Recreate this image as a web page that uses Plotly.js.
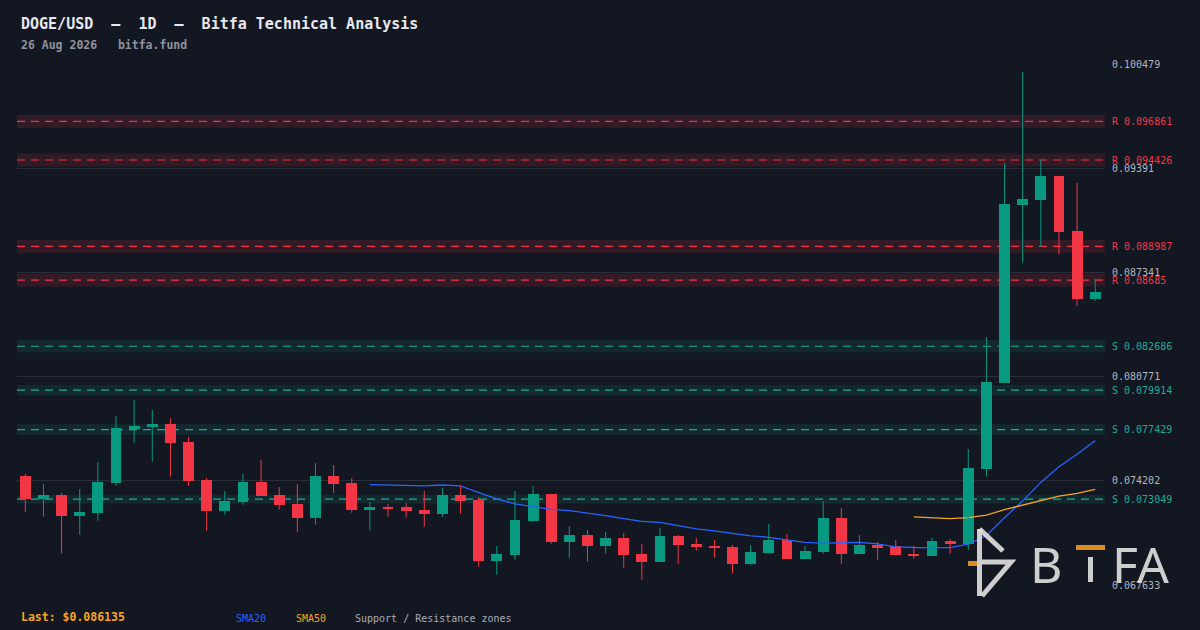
<!DOCTYPE html>
<html><head><meta charset="utf-8">
<script src="https://cdn.plot.ly/plotly-3.0.1.min.js"></script>
<style>html,body{margin:0;padding:0;background:#131722;}#chart{width:1200px;height:630px;}</style>
</head><body><div id="chart"></div>
<script>
// ---- data ----
const opens = [0.074505,0.073074,0.073307,0.072002,0.072191,0.074082,0.077468,0.077613,0.077783,0.076648,
0.074253,0.072317,0.072885,0.074127,0.073307,0.07274,0.071876,0.074505,0.074063,0.07238,
0.07255,0.07255,0.072361,0.072128,0.073307,0.072992,0.069165,0.069543,0.071668,0.07337,
0.070363,0.070785,0.070111,0.070596,0.069587,0.069102,0.070722,0.070218,0.070111,0.070029,
0.068976,0.069669,0.07047,0.069291,0.069732,0.071857,0.069606,0.070155,0.070092,0.069587,
0.06948,0.070407,0.070237,0.074965,0.080387,0.09159,0.091905,0.093418,0.089951,0.085664];
const highs = [0.074631,0.074000,0.073433,0.073685,0.075387,0.078287,0.079296,0.078666,0.078161,0.076963,
0.074379,0.073559,0.074631,0.075513,0.073811,0.074000,0.075324,0.075198,0.074379,0.072866,
0.07274,0.072803,0.073559,0.073748,0.073874,0.073181,0.070092,0.073559,0.073874,0.07337,
0.071353,0.0711,0.070974,0.070911,0.070218,0.071227,0.070785,0.070596,0.07047,0.070155,
0.070155,0.071479,0.070848,0.070092,0.072929,0.072487,0.070785,0.070344,0.07047,0.070092,
0.070596,0.070533,0.076207,0.083268,0.094238,0.099975,0.094427,0.093418,0.092977,0.086924];
const lows = [0.072254,0.071939,0.069606,0.070804,0.071687,0.073893,0.076604,0.075406,0.074461,0.073893,
0.071056,0.072065,0.072695,0.073244,0.07238,0.070993,0.071435,0.073452,0.072191,0.071056,
0.071939,0.071876,0.071308,0.071939,0.072128,0.068787,0.068282,0.069228,0.071605,0.070237,
0.069354,0.069102,0.069606,0.068724,0.067967,0.069102,0.068976,0.069795,0.069354,0.068345,
0.068913,0.069606,0.069291,0.069228,0.069606,0.068976,0.069606,0.069228,0.069543,0.069291,
0.06948,0.069606,0.069858,0.074461,0.080387,0.087952,0.088961,0.088456,0.085223,0.085537];
const closes = [0.073074,0.073307,0.072002,0.072235,0.074127,0.077531,0.077657,0.077783,0.076604,0.074208,
0.072317,0.072929,0.074127,0.073263,0.072695,0.071876,0.074505,0.074019,0.07238,0.07255,
0.072443,0.072317,0.072128,0.073307,0.072929,0.069165,0.069587,0.071731,0.07337,0.070363,
0.070785,0.070111,0.070596,0.069543,0.069102,0.070722,0.070174,0.070048,0.069985,0.068976,
0.069713,0.07047,0.069291,0.069776,0.071857,0.069606,0.070155,0.069985,0.069543,0.06948,
0.070407,0.070237,0.075009,0.080431,0.091653,0.091968,0.093418,0.089888,0.085664,0.086135];
const yTicks = [0.067633, 0.074202, 0.080771, 0.087341, 0.09391, 0.100479];
const yTickLabels = ['0.067633','0.074202','0.080771','0.087341','0.09391','0.100479'];
const resistanceLevels = [0.096861, 0.094426, 0.088987, 0.08685];
const resistanceHalfWidth = [0.0004, 0.0004, 0.0004, 0.0004];
const supportLevels = [0.082686, 0.079914, 0.077429, 0.073049];
const supportHalfWidth = [0.0004, 0.000337, 0.000337, 0.000274];
const lastPrice = 0.086135;
const titleText = 'DOGE/USD  –  1D  –  Bitfa Technical Analysis';
const subtitleText = '26 Aug 2026   bitfa.fund';

// ---- styles ----
const BG = '#131722', UP = '#089981', DOWN = '#f23645';
const RES = '#f23645', SUP = '#22ab94';
const BLUE = '#2962ff', ORANGE = '#f5a524';
const MONO = 'DejaVu Sans Mono, monospace';
const ML = 17, MR = 95, MT = 64, MB = 45, W = 1200, H = 630;
const PW = W - ML - MR, PH = H - MT - MB;
const px = v => (v - ML) / PW;
const py = v => (H - MB - v) / PH;
const nb = s => s.replace(/ /g, '\u00a0');

function sma(arr, n) {
  return arr.map((_, i) => {
    if (i < n - 1) return null;
    let s = 0; for (let k = i - n + 1; k <= i; k++) s += arr[k];
    return s / n;
  });
}
const idx = closes.map((_, i) => i);
const sma20 = sma(closes, 20);
const sma50 = sma(closes, 50);

// wicks
const wick = {up: {x: [], y: []}, down: {x: [], y: []}};
idx.forEach(i => {
  const w = closes[i] >= opens[i] ? wick.up : wick.down;
  w.x.push(i, i, null); w.y.push(lows[i], highs[i], null);
});

const traces = [
  {type: 'scatter', mode: 'lines', x: idx, y: sma20, line: {color: BLUE, width: 1.3}, hoverinfo: 'skip'},
  {type: 'scatter', mode: 'lines', x: idx, y: sma50, line: {color: ORANGE, width: 1.3}, hoverinfo: 'skip'},
  {type: 'scatter', mode: 'lines', x: wick.up.x, y: wick.up.y, line: {color: UP, width: 1}, hoverinfo: 'skip'},
  {type: 'scatter', mode: 'lines', x: wick.down.x, y: wick.down.y, line: {color: DOWN, width: 1}, hoverinfo: 'skip'},
  {type: 'bar', x: idx, base: idx.map(i => Math.min(opens[i], closes[i])),
   y: idx.map(i => Math.max(Math.abs(closes[i] - opens[i]), 0.00004)),
   width: 0.6, marker: {color: idx.map(i => closes[i] >= opens[i] ? UP : DOWN), line: {width: 0}}, hoverinfo: 'skip'}
];

const shapes = [];
const annotations = [];
function zone(level, half, col, fill, prefix) {
  shapes.push({type: 'rect', xref: 'paper', yref: 'y', x0: 0, x1: 1, y0: level - half, y1: level + half,
    fillcolor: fill, line: {width: 0}, layer: 'below'});
  shapes.push({type: 'line', xref: 'paper', yref: 'y', x0: 0, x1: 1, y0: level, y1: level,
    line: {color: col, width: 1.2, dash: '8px,6px'}, layer: 'below'});
  annotations.push({xref: 'paper', yref: 'y', x: 1, y: level, xanchor: 'left', yanchor: 'middle', xshift: 5,
    text: prefix + '\u00a0' + level.toString(), showarrow: false, font: {family: MONO, size: 10, color: col}});
}
resistanceLevels.forEach((l, i) => zone(l, resistanceHalfWidth[i], RES, 'rgba(242,54,69,0.14)', 'R'));
supportLevels.forEach((l, i) => zone(l, supportHalfWidth[i], SUP, 'rgba(8,153,129,0.14)', 'S'));

// header / footer text
annotations.push(
  {xref: 'paper', yref: 'paper', x: px(19), y: py(24), xanchor: 'left', yanchor: 'middle', showarrow: false,
   text: nb(titleText), font: {family: MONO, size: 15, color: '#e6e8ee', weight: 'bold'}},
  {xref: 'paper', yref: 'paper', x: px(19), y: py(45), xanchor: 'left', yanchor: 'middle', showarrow: false,
   text: nb(subtitleText), font: {family: MONO, size: 11.5, color: '#8f939c', weight: 'bold'}},
  {xref: 'paper', yref: 'paper', x: px(19), y: py(617), xanchor: 'left', yanchor: 'middle', showarrow: false,
   text: 'Last:\u00a0$' + lastPrice.toFixed(6), font: {family: MONO, size: 11.5, color: ORANGE, weight: 'bold'}},
  {xref: 'paper', yref: 'paper', x: px(234), y: py(618), xanchor: 'left', yanchor: 'middle', showarrow: false,
   text: 'SMA20', font: {family: MONO, size: 10, color: BLUE}},
  {xref: 'paper', yref: 'paper', x: px(294), y: py(618), xanchor: 'left', yanchor: 'middle', showarrow: false,
   text: 'SMA50', font: {family: MONO, size: 10, color: ORANGE}},
  {xref: 'paper', yref: 'paper', x: px(353), y: py(618), xanchor: 'left', yanchor: 'middle', showarrow: false,
   text: nb('Support / Resistance zones'), font: {family: MONO, size: 10, color: '#a9acb5'}}
);

// watermark logo
const LOGO = 'rgba(222,222,222,0.92)';
const P = (x, y) => px(x) + ',' + py(y);
shapes.push(
  {type: 'path', xref: 'paper', yref: 'paper', path: 'M' + P(979.5, 529) + ' L' + P(979.5, 596),
   line: {color: LOGO, width: 5}},
  {type: 'path', xref: 'paper', yref: 'paper', path: 'M' + P(979.5, 529) + ' L' + P(1003, 551),
   line: {color: LOGO, width: 5}},
  {type: 'path', xref: 'paper', yref: 'paper', path: 'M' + P(982, 562) + ' L' + P(1011, 562) + ' L' + P(982, 596),
   line: {color: LOGO, width: 5}},
  {type: 'rect', xref: 'paper', yref: 'paper', x0: px(968), x1: px(977), y0: py(566), y1: py(561),
   fillcolor: '#d98c1f', line: {width: 0}},
  {type: 'rect', xref: 'paper', yref: 'paper', x0: px(1076), x1: px(1105), y0: py(550), y1: py(545),
   fillcolor: '#d98c1f', line: {width: 0}},
  {type: 'rect', xref: 'paper', yref: 'paper', x0: px(1088), x1: px(1093), y0: py(582), y1: py(557),
   fillcolor: LOGO, line: {width: 0}}
);
annotations.push(
  {xref: 'paper', yref: 'paper', x: px(1028), y: py(564), xanchor: 'left', yanchor: 'middle', showarrow: false,
   text: 'B', font: {family: 'Noto Sans', size: 50, color: LOGO}},
  {xref: 'paper', yref: 'paper', x: px(1110), y: py(564), xanchor: 'left', yanchor: 'middle', showarrow: false,
   text: 'FA', font: {family: 'Noto Sans', size: 50, color: LOGO}}
);

const layout = {
  width: W, height: H, margin: {l: ML, r: MR, t: MT, b: MB, pad: 0},
  paper_bgcolor: BG, plot_bgcolor: BG, showlegend: false, barmode: 'overlay', bargap: 0,
  xaxis: {range: [-0.46, 59.54], showgrid: false, zeroline: false, showticklabels: false, ticks: '', showline: false, fixedrange: true},
  yaxis: {range: [0.0676328, 0.1004792], side: 'right', tickvals: yTicks, ticktext: yTickLabels,
    showgrid: true, gridcolor: '#2a2e39', gridwidth: 1, zeroline: false, showline: false, ticks: '',
    ticklabelstandoff: 6, tickfont: {family: MONO, size: 10, color: '#b2b5be'}, fixedrange: true},
  shapes: shapes, annotations: annotations
};
Plotly.newPlot('chart', traces, layout, {displayModeBar: false, staticPlot: true});
</script></body></html>
